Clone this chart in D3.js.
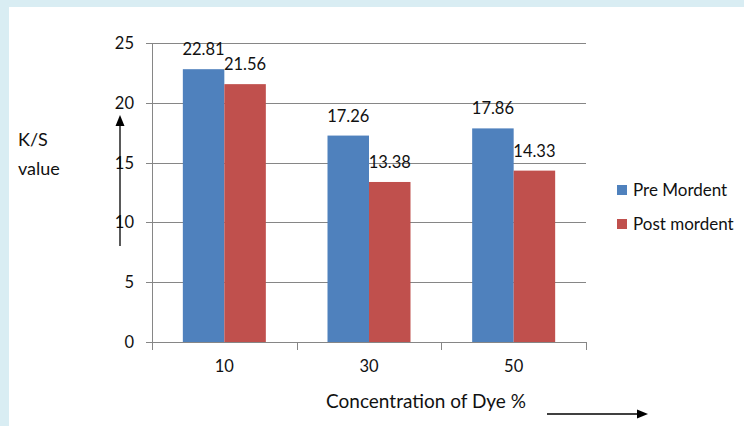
<!DOCTYPE html>
<html>
<head>
<meta charset="utf-8">
<script src="https://cdn.jsdelivr.net/npm/d3@7"></script>
<style>
  body { margin: 0; background: #d9edf3; }
  svg { display: block; font-family: Lato, "Noto Sans", sans-serif; }
</style>
</head>
<body>
<svg id="chart" width="744" height="426"></svg>
<script>
// data
const concentrations = ["10", "30", "50"];
const seriesNames = ["Pre Mordent", "Post mordent"];
const preMordent = [22.81, 17.26, 17.86];
const postMordent = [21.56, 13.38, 14.33];
const yTicks = [0, 5, 10, 15, 20, 25];

const colors = ["#4f81bd", "#c0504d"];

const svg = d3.select("#chart");

// white panel inside the light blue frame
svg.append("rect")
    .attr("x", 9).attr("y", 7)
    .attr("width", 744 - 9).attr("height", 426 - 7)
    .attr("fill", "#ffffff");

const plot = {left: 152, right: 586, top: 43, bottom: 342};

const x = d3.scaleBand()
    .domain(concentrations)
    .range([plot.left, plot.right])
    .padding(0);

const x1 = d3.scaleBand()
    .domain(seriesNames)
    .range([0, x.bandwidth()])
    .paddingInner(0)
    .paddingOuter(0.743);

const y = d3.scaleLinear()
    .domain([0, 25])
    .range([plot.bottom, plot.top]);

const rows = concentrations.map((c, i) => ({
    conc: c,
    values: [
        {name: seriesNames[0], value: preMordent[i]},
        {name: seriesNames[1], value: postMordent[i]}
    ]
}));

// gridlines + y ticks
const grid = svg.append("g");
grid.selectAll("line")
    .data(yTicks)
    .enter().append("line")
    .attr("x1", plot.left - 6)
    .attr("x2", plot.right)
    .attr("y1", d => Math.round(y(d)) + 0.5)
    .attr("y2", d => Math.round(y(d)) + 0.5)
    .attr("stroke", "#868686")
    .attr("stroke-width", 1);

grid.selectAll("text")
    .data(yTicks)
    .enter().append("text")
    .attr("x", 134)
    .attr("y", d => y(d))
    .attr("dy", "0.36em")
    .attr("text-anchor", "end")
    .style("font-size", "16.5px")
    .attr("fill", "#111")
    .text(d => d);

// y axis line
svg.append("line")
    .attr("x1", plot.left + 0.5).attr("x2", plot.left + 0.5)
    .attr("y1", plot.top).attr("y2", plot.bottom + 8)
    .attr("stroke", "#868686");

// bars
const groups = svg.selectAll(".grp")
    .data(rows)
    .enter().append("g")
    .attr("class", "grp")
    .attr("transform", d => `translate(${x(d.conc)},0)`);

groups.selectAll("rect")
    .data(d => d.values)
    .enter().append("rect")
    .attr("x", d => x1(d.name))
    .attr("width", x1.bandwidth())
    .attr("y", d => y(d.value))
    .attr("height", d => y(0) - y(d.value))
    .attr("fill", (d, i) => colors[i]);

groups.selectAll("text.val")
    .data(d => d.values)
    .enter().append("text")
    .attr("class", "val")
    .attr("x", d => x1(d.name) + x1.bandwidth() / 2)
    .attr("y", d => y(d.value) - 14)
    .attr("text-anchor", "middle")
    .style("font-size", "16.5px")
    .attr("fill", "#111")
    .text(d => d.value.toFixed(2));

// x axis
const xTickPos = concentrations.map(c => x(c)).concat([x(concentrations[concentrations.length - 1]) + x.bandwidth()]);
svg.append("line")
    .attr("x1", plot.left - 6).attr("x2", plot.right)
    .attr("y1", plot.bottom + 0.5).attr("y2", plot.bottom + 0.5)
    .attr("stroke", "#868686");
svg.selectAll(".xtick")
    .data(xTickPos.slice(1))
    .enter().append("line")
    .attr("class", "xtick")
    .attr("x1", d => Math.round(d) + 0.5).attr("x2", d => Math.round(d) + 0.5)
    .attr("y1", plot.bottom).attr("y2", plot.bottom + 8)
    .attr("stroke", "#868686");

svg.selectAll(".xlab")
    .data(concentrations)
    .enter().append("text")
    .attr("class", "xlab")
    .attr("x", d => x(d) + x.bandwidth() / 2)
    .attr("y", 372)
    .attr("text-anchor", "middle")
    .style("font-size", "16.5px")
    .attr("fill", "#111")
    .text(d => d);

// axis titles
svg.append("text")
    .attr("x", 426).attr("y", 408)
    .attr("text-anchor", "middle")
    .style("font-size", "19px")
    .attr("fill", "#111")
    .text("Concentration of Dye %");

svg.append("text")
    .attr("x", 18).attr("y", 146)
    .style("font-size", "18px")
    .attr("fill", "#111")
    .text("K/S");
svg.append("text")
    .attr("x", 18).attr("y", 175)
    .style("font-size", "18px")
    .attr("fill", "#111")
    .text("value");

// arrows
svg.append("line")
    .attr("x1", 120).attr("x2", 120)
    .attr("y1", 246).attr("y2", 124)
    .attr("stroke", "#000").attr("stroke-width", 1.3);
svg.append("path")
    .attr("d", "M120,115 L124.5,126 L115.5,126 Z")
    .attr("fill", "#000");

svg.append("line")
    .attr("x1", 547).attr("x2", 638)
    .attr("y1", 414).attr("y2", 414)
    .attr("stroke", "#000").attr("stroke-width", 1.3);
svg.append("path")
    .attr("d", "M648,414 L637,409.5 L637,418.5 Z")
    .attr("fill", "#000");

// legend
const legend = svg.append("g")
    .attr("transform", "translate(617,185)");
const li = legend.selectAll("g")
    .data(seriesNames)
    .enter().append("g")
    .attr("transform", (d, i) => `translate(0,${i * 34})`);
li.append("rect")
    .attr("width", 10).attr("height", 10)
    .attr("fill", (d, i) => colors[i]);
li.append("text")
    .attr("x", 16).attr("y", 5)
    .attr("dy", "0.36em")
    .style("font-size", "17px")
    .attr("fill", "#111")
    .text(d => d);
</script>
</body>
</html>
